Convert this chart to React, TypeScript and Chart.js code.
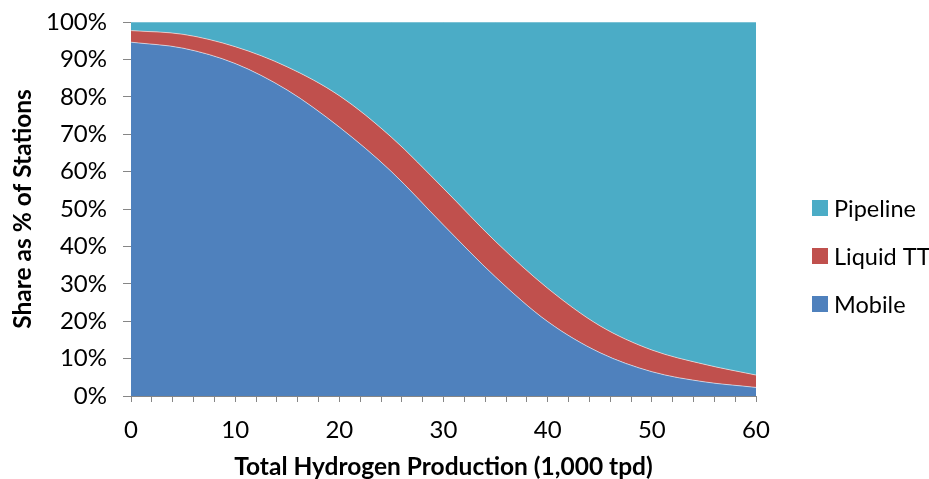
import React, { useEffect, useRef } from "react";
import { Chart, registerables } from "chart.js";

Chart.register(...registerables);

const xValues = [0, 5, 10, 15, 20, 25, 30, 35, 40, 45, 50, 55, 60];
const mobile = [94.6, 93.0, 88.9, 81.8, 71.9, 60.0, 45.7, 31.8, 19.9, 11.6, 6.5, 3.8, 2.3];
const liquidTT = [3.1, 3.7, 4.5, 6.2, 8.4, 9.2, 9.8, 9.5, 8.9, 7.2, 5.8, 4.7, 3.3];
const pipeline = [2.3, 3.3, 6.6, 12.0, 19.7, 30.8, 44.5, 58.7, 71.2, 81.2, 87.7, 91.5, 94.4];

const seriesNames = ["Mobile", "Liquid TT", "Pipeline"];
const seriesColors = ["#4F81BD", "#C0504D", "#4BACC6"];
const legendOrder = [2, 1, 0];

const xTitle = "Total Hydrogen Production (1,000 tpd)";
const yTitle = "Share as % of Stations";

const FONT = "Lato";
const AXIS_COLOR = "#868686";

const legendPlugin = {
  id: "customLegend",
  afterDraw(chart: any) {
    const ctx = chart.ctx;
    ctx.save();
    ctx.font = `23.5px ${FONT}`;
    ctx.textBaseline = "middle";
    ctx.textAlign = "left";
    legendOrder.forEach((idx, row) => {
      const cy = 208 + row * 48;
      ctx.fillStyle = seriesColors[idx];
      ctx.fillRect(812, cy - 8, 16, 16);
      ctx.fillStyle = "#000";
      ctx.fillText(seriesNames[idx], 834, cy + 1);
    });
    ctx.restore();
  },
};

export default function App() {
  const ref = useRef<HTMLCanvasElement>(null);

  useEffect(() => {
    if (!ref.current) return;
    const seriesData = [mobile, liquidTT, pipeline];
    const chart = new Chart(ref.current, {
      type: "line",
      data: {
        datasets: seriesData.map((vals, i) => ({
          label: seriesNames[i],
          data: xValues.map((x, j) => ({ x, y: vals[j] })),
          backgroundColor: seriesColors[i],
          borderColor: "rgba(255,255,255,0.55)",
          borderWidth: 1,
          pointRadius: 0,
          fill: i === 0 ? "origin" : "-1",
          cubicInterpolationMode: "monotone" as const,
        })),
      },
      options: {
        responsive: false,
        animation: false,
        layout: { padding: { left: 0, top: 22, right: 173, bottom: 0 } },
        plugins: {
          legend: { display: false },
          tooltip: { enabled: false },
        },
        scales: {
          x: {
            type: "linear",
            min: 0,
            max: 60,
            afterFit: (s: any) => {
              s.height = 83;
            },
            ticks: {
              stepSize: 2,
              autoSkip: false,
              maxRotation: 0,
              padding: 14,
              color: "#000",
              font: { family: FONT, size: 24 },
              callback: (v: any) => (Number(v) % 10 === 0 ? String(v) : ""),
            },
            grid: {
              drawOnChartArea: false,
              drawTicks: true,
              tickLength: 6,
              color: AXIS_COLOR,
            },
            border: { display: true, color: AXIS_COLOR, width: 1 },
            title: {
              display: true,
              text: xTitle,
              color: "#000",
              font: { family: FONT, size: 24.5, weight: "bold" },
              padding: { top: 0, bottom: -3 },
            },
          },
          y: {
            stacked: true,
            min: 0,
            max: 100,
            afterFit: (s: any) => {
              s.width = 131;
              s.paddingTop = 10;
              s.paddingBottom = 10;
            },
            ticks: {
              stepSize: 10,
              padding: 16,
              color: "#000",
              font: { family: FONT, size: 24 },
              callback: (v: any) => `${v}%`,
            },
            grid: {
              drawOnChartArea: false,
              drawTicks: true,
              tickLength: 8,
              color: AXIS_COLOR,
            },
            border: { display: true, color: AXIS_COLOR, width: 1 },
            title: {
              display: true,
              text: yTitle,
              color: "#000",
              font: { family: FONT, size: 24.5, weight: "bold" },
              padding: { top: 8, bottom: 0 },
            },
          },
        },
      },
      plugins: [legendPlugin],
    });
    return () => chart.destroy();
  }, []);

  return (
    <div style={{ position: "fixed", left: 0, top: 0, width: 929, height: 479, background: "#fff" }}>
      <canvas ref={ref} width={929} height={479} style={{ display: "block" }} />
    </div>
  );
}
